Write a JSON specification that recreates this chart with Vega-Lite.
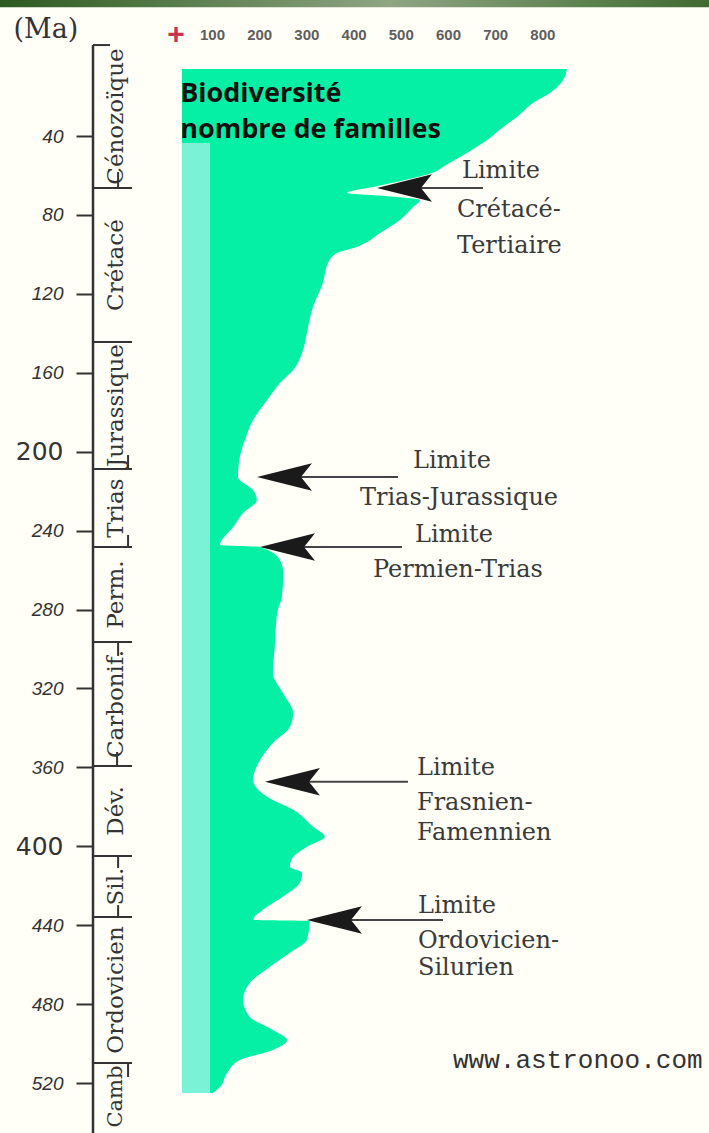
{
  "$schema": "https://vega.github.io/schema/vega-lite/v6.json",
  "width": 616,
  "height": 1091,
  "autosize": {"type": "none"},
  "padding": {"left": 93, "top": 42, "right": 0, "bottom": 0},
  "background": "#FFFEF7",
  "config": {
    "view": {"stroke": null},
    "axis": {"grid": false, "domain": false, "title": null}
  },
  "datasets": {
    "bar": [{"x1": -349.2, "x2": 1153, "y1": -28.9, "y2": -25.3}],
    "curve": [
      {"ma": 6.0, "fam": 852}, {"ma": 11.6, "fam": 844}, {"ma": 18.2, "fam": 816}, {"ma": 23.3, "fam": 780},
      {"ma": 30.4, "fam": 746}, {"ma": 35.4, "fam": 717}, {"ma": 42.0, "fam": 683}, {"ma": 48.6, "fam": 640},
      {"ma": 55.7, "fam": 589}, {"ma": 58.2, "fam": 572}, {"ma": 62.3, "fam": 509}, {"ma": 65.3, "fam": 452},
      {"ma": 68.9, "fam": 386}, {"ma": 70.4, "fam": 466}, {"ma": 72.4, "fam": 541}, {"ma": 76.0, "fam": 526},
      {"ma": 82.6, "fam": 498}, {"ma": 89.2, "fam": 456}, {"ma": 96.2, "fam": 407}, {"ma": 99.3, "fam": 365},
      {"ma": 104.3, "fam": 346}, {"ma": 114.5, "fam": 335}, {"ma": 126.7, "fam": 314}, {"ma": 139.8, "fam": 301},
      {"ma": 148.4, "fam": 293}, {"ma": 158.6, "fam": 272}, {"ma": 165.2, "fam": 244}, {"ma": 173.8, "fam": 217},
      {"ma": 183.9, "fam": 187}, {"ma": 194.0, "fam": 170}, {"ma": 202.7, "fam": 159}, {"ma": 212.8, "fam": 155},
      {"ma": 219.4, "fam": 187}, {"ma": 224.5, "fam": 195}, {"ma": 231.1, "fam": 166}, {"ma": 238.2, "fam": 145},
      {"ma": 247.3, "fam": 117}, {"ma": 248.3, "fam": 202}, {"ma": 254.9, "fam": 244}, {"ma": 261.5, "fam": 251},
      {"ma": 273.7, "fam": 248}, {"ma": 281.8, "fam": 238}, {"ma": 299.0, "fam": 233}, {"ma": 312.2, "fam": 229},
      {"ma": 322.3, "fam": 250}, {"ma": 332.4, "fam": 272}, {"ma": 339.5, "fam": 265}, {"ma": 347.6, "fam": 229},
      {"ma": 356.2, "fam": 202}, {"ma": 366.3, "fam": 187}, {"ma": 374.9, "fam": 217}, {"ma": 381.5, "fam": 272},
      {"ma": 390.1, "fam": 314}, {"ma": 395.2, "fam": 339}, {"ma": 400.3, "fam": 301}, {"ma": 405.3, "fam": 272},
      {"ma": 410.4, "fam": 265}, {"ma": 413.5, "fam": 291}, {"ma": 418.5, "fam": 286}, {"ma": 425.6, "fam": 250},
      {"ma": 432.2, "fam": 208}, {"ma": 437.3, "fam": 187}, {"ma": 437.8, "fam": 307}, {"ma": 447.4, "fam": 301},
      {"ma": 454.0, "fam": 265}, {"ma": 461.1, "fam": 223}, {"ma": 469.3, "fam": 180}, {"ma": 477.9, "fam": 166},
      {"ma": 486.5, "fam": 180}, {"ma": 493.1, "fam": 229}, {"ma": 498.2, "fam": 259}, {"ma": 503.2, "fam": 229},
      {"ma": 508.3, "fam": 159}, {"ma": 514.9, "fam": 132}, {"ma": 522.0, "fam": 117}, {"ma": 525.0, "fam": 102}
    ],
    "stripe": [{"x1": 36.4, "x2": 95.8, "y1": 43.6, "y2": 525.0}],
    "bio": [
      {"label": "Biodiversité", "x": 32.6, "y": 22.8},
      {"label": "nombre de familles", "x": 32.6, "y": 41.0}
    ],
    "plus": [{"label": "+", "x": 23.7, "y": -11.2}],
    "arrowLines": [
      {"x1": 534.3, "x2": 674.1, "y": 66.4},
      {"x1": 280.1, "x2": 494.1, "y": 212.8},
      {"x1": 286.4, "x2": 502.5, "y": 248.3},
      {"x1": 297.0, "x2": 515.2, "y": 367.3},
      {"x1": 386.0, "x2": 589.4, "y": 437.3}
    ],
    "arrowHeads": [
      {"x": 507.8, "y": 66.4},
      {"x": 253.6, "y": 212.8},
      {"x": 260.0, "y": 248.3},
      {"x": 270.5, "y": 367.3},
      {"x": 359.5, "y": 437.3}
    ],
    "notes": [
      {"label": "Limite", "x": 629.7, "y": 61.3},
      {"label": "Crétacé-", "x": 619.1, "y": 81.0},
      {"label": "Tertiaire", "x": 619.1, "y": 99.3},
      {"label": "Limite", "x": 525.8, "y": 208.2},
      {"label": "Trias-Jurassique", "x": 413.5, "y": 227.0},
      {"label": "Limite", "x": 530.1, "y": 245.7},
      {"label": "Permien-Trias", "x": 441.1, "y": 263.5},
      {"label": "Limite", "x": 534.3, "y": 363.8},
      {"label": "Frasnien-", "x": 534.3, "y": 381.5},
      {"label": "Famennien", "x": 534.3, "y": 396.8},
      {"label": "Limite", "x": 536.4, "y": 433.8},
      {"label": "Ordovicien-", "x": 536.4, "y": 451.5},
      {"label": "Silurien", "x": 536.4, "y": 465.2}
    ],
    "separators": [
      {"x1": -152.1, "x2": -115.9, "y": -6.1},
      {"x1": -152.1, "x2": -69.5, "y": 66.3},
      {"x1": -152.1, "x2": -69.5, "y": 144.4},
      {"x1": -152.1, "x2": -69.5, "y": 208.8},
      {"x1": -152.1, "x2": -69.5, "y": 248.3},
      {"x1": -152.1, "x2": -69.5, "y": 296.5},
      {"x1": -152.1, "x2": -69.5, "y": 359.3},
      {"x1": -152.1, "x2": -69.5, "y": 404.9},
      {"x1": -152.1, "x2": -69.5, "y": 435.8},
      {"x1": -152.1, "x2": -69.5, "y": 509.8}
    ],
    "bars": [
      {"x": -98.9, "y1": 58.2, "y2": 66.3},
      {"x": -77.8, "y1": 201.7, "y2": 208.8},
      {"x": -77.8, "y1": 242.2, "y2": 248.3},
      {"x": -98.9, "y1": 296.5, "y2": 303.5},
      {"x": -101.1, "y1": 352.2, "y2": 359.3},
      {"x": -98.9, "y1": 404.9, "y2": 411.0},
      {"x": -98.9, "y1": 429.8, "y2": 435.8},
      {"x": -77.8, "y1": 509.8, "y2": 516.9}
    ],
    "mainLine": [{"x": -152.1, "y1": -6.1, "y2": 545.3}],
    "periods": [
      {"label": "Cénozoïque", "x": -103.2, "y": 30.1},
      {"label": "Crétacé", "x": -103.2, "y": 105.4},
      {"label": "Jurassique", "x": -103.2, "y": 176.6},
      {"label": "Trias", "x": -103.2, "y": 228.6},
      {"label": "Perm.", "x": -103.2, "y": 272.4},
      {"label": "Carbonif.", "x": -103.2, "y": 327.9},
      {"label": "Dév.", "x": -103.2, "y": 382.1},
      {"label": "Sil.", "x": -103.2, "y": 420.4},
      {"label": "Ordovicien", "x": -103.2, "y": 472.8}
    ],
    "camb": [{"label": "Camb", "x": -103.2, "y": 526.8}],
    "ma": [{"label": "(Ma)", "x": -251.7, "y": -9.8}],
    "www": [{"label": "www.astronoo.com", "x": 610.6, "y": 512.3}]
  },
  "layer": [
    {
      "data": {"name": "curve"},
      "mark": {"type": "area", "orient": "horizontal", "color": "#05F0A5", "interpolate": "monotone"},
      "encoding": {
        "y": {
          "field": "ma", "type": "quantitative", "sort": null,
          "scale": {"domain": [-7.65, 545.3], "nice": false, "zero": false, "reverse": true},
          "axis": {
            "orient": "left", "title": null, "domain": false, "grid": false,
            "values": [40, 80, 120, 160, 200, 240, 280, 320, 360, 400, 440, 480, 520],
            "tickSize": 17, "tickWidth": 2, "tickColor": "#333333",
            "labelPadding": 13, "labelColor": "#333333",
            "labelFont": {"condition": {"test": "datum.value == 200 || datum.value == 400", "value": "DejaVu Sans"}, "value": "Liberation Sans"},
            "labelFontSize": {"condition": {"test": "datum.value == 200 || datum.value == 400", "value": 25}, "value": 19},
            "labelFontStyle": {"condition": {"test": "datum.value == 200 || datum.value == 400", "value": "normal"}, "value": "italic"}
          }
        },
        "x": {
          "field": "fam", "type": "quantitative",
          "scale": {"domain": [-152.1, 1153], "nice": false, "zero": false},
          "axis": {
            "orient": "top", "title": null, "domain": false, "ticks": false, "grid": false,
            "values": [100, 200, 300, 400, 500, 600, 700, 800],
            "labelPadding": 0, "labelFont": "Liberation Sans", "labelFontSize": 15, "labelFontWeight": "bold", "labelColor": "#5E5E5E"
          }
        },
        "x2": {"datum": 36.4}
      }
    },
    {
      "data": {"name": "bar"},
      "mark": {"type": "rect", "color": {"gradient": "linear", "x1": 0, "x2": 1, "y1": 0, "y2": 0, "stops": [{"offset": 0, "color": "#2c5a20"}, {"offset": 0.55, "color": "#8fa583"}, {"offset": 1, "color": "#3f6a30"}]}},
      "encoding": {
        "x": {"field": "x1", "type": "quantitative"},
        "x2": {"field": "x2"},
        "y": {"field": "y1", "type": "quantitative"},
        "y2": {"field": "y2"}
      }
    },
    {
      "data": {"name": "stripe"},
      "mark": {"type": "rect", "color": "#7AF2D6"},
      "encoding": {
        "x": {"field": "x1", "type": "quantitative"},
        "x2": {"field": "x2"},
        "y": {"field": "y1", "type": "quantitative"},
        "y2": {"field": "y2"}
      }
    },
    {
      "data": {"name": "bio"},
      "mark": {"type": "text", "font": "Open Sans", "fontWeight": "bold", "fontSize": 27, "color": "#111111", "align": "left", "baseline": "alphabetic"},
      "encoding": {
        "x": {"field": "x", "type": "quantitative"},
        "y": {"field": "y", "type": "quantitative"},
        "text": {"field": "label"}
      }
    },
    {
      "data": {"name": "plus"},
      "mark": {"type": "text", "font": "Liberation Sans", "fontWeight": "bold", "fontSize": 30, "color": "#C8354F", "align": "center", "baseline": "middle"},
      "encoding": {
        "x": {"field": "x", "type": "quantitative"},
        "y": {"field": "y", "type": "quantitative"},
        "text": {"field": "label"}
      }
    },
    {
      "data": {"name": "arrowLines"},
      "mark": {"type": "rule", "color": "#444444", "strokeWidth": 2},
      "encoding": {
        "x": {"field": "x1", "type": "quantitative"},
        "x2": {"field": "x2"},
        "y": {"field": "y", "type": "quantitative"}
      }
    },
    {
      "data": {"name": "arrowHeads"},
      "mark": {"type": "point", "shape": "M -1 0 L 1 -0.5 L 0.6 0 L 1 0.5 Z", "filled": true, "size": 3025, "color": "#1A1A1A", "opacity": 1},
      "encoding": {
        "x": {"field": "x", "type": "quantitative"},
        "y": {"field": "y", "type": "quantitative"}
      }
    },
    {
      "data": {"name": "notes"},
      "mark": {"type": "text", "font": "DejaVu Serif", "fontSize": 24, "color": "#3A3A3A", "align": "left", "baseline": "alphabetic"},
      "encoding": {
        "x": {"field": "x", "type": "quantitative"},
        "y": {"field": "y", "type": "quantitative"},
        "text": {"field": "label"}
      }
    },
    {
      "data": {"name": "separators"},
      "mark": {"type": "rule", "color": "#333333", "strokeWidth": 2},
      "encoding": {
        "x": {"field": "x1", "type": "quantitative"},
        "x2": {"field": "x2"},
        "y": {"field": "y", "type": "quantitative"}
      }
    },
    {
      "data": {"name": "bars"},
      "mark": {"type": "rule", "color": "#333333", "strokeWidth": 2},
      "encoding": {
        "x": {"field": "x", "type": "quantitative"},
        "y": {"field": "y1", "type": "quantitative"},
        "y2": {"field": "y2"}
      }
    },
    {
      "data": {"name": "mainLine"},
      "mark": {"type": "rule", "color": "#333333", "strokeWidth": 2.5},
      "encoding": {
        "x": {"field": "x", "type": "quantitative"},
        "y": {"field": "y1", "type": "quantitative"},
        "y2": {"field": "y2"}
      }
    },
    {
      "data": {"name": "periods"},
      "mark": {"type": "text", "font": "DejaVu Serif", "fontSize": 23, "color": "#333333", "align": "center", "baseline": "middle", "angle": 270},
      "encoding": {
        "x": {"field": "x", "type": "quantitative"},
        "y": {"field": "y", "type": "quantitative"},
        "text": {"field": "label"}
      }
    },
    {
      "data": {"name": "camb"},
      "mark": {"type": "text", "font": "DejaVu Serif", "fontSize": 21, "color": "#333333", "align": "center", "baseline": "middle", "angle": 270},
      "encoding": {
        "x": {"field": "x", "type": "quantitative"},
        "y": {"field": "y", "type": "quantitative"},
        "text": {"field": "label"}
      }
    },
    {
      "data": {"name": "ma"},
      "mark": {"type": "text", "font": "DejaVu Serif", "fontSize": 27, "color": "#333333", "align": "center", "baseline": "alphabetic"},
      "encoding": {
        "x": {"field": "x", "type": "quantitative"},
        "y": {"field": "y", "type": "quantitative"},
        "text": {"field": "label"}
      }
    },
    {
      "data": {"name": "www"},
      "mark": {"type": "text", "font": "Liberation Mono", "fontSize": 26, "color": "#333333", "align": "left", "baseline": "alphabetic"},
      "encoding": {
        "x": {"field": "x", "type": "quantitative"},
        "y": {"field": "y", "type": "quantitative"},
        "text": {"field": "label"}
      }
    }
  ]
}
